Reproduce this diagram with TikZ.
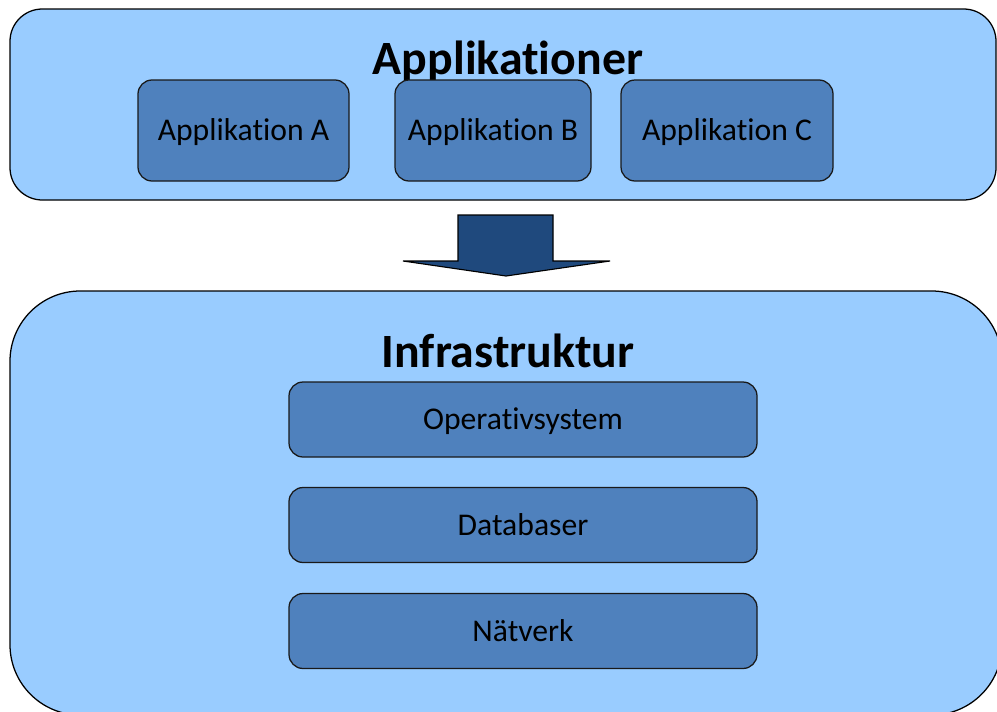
\documentclass[tikz,border=0pt]{standalone}
\usepackage{fontspec}
\setmainfont[Ligatures=NoCommon]{Carlito}
\usepackage{tikz}
\usetikzlibrary{calc}

\definecolor{layerblue}{HTML}{99CCFF}
\definecolor{partblue}{HTML}{4F81BD}
\definecolor{arrowblue}{HTML}{1F497D}

\def\u{0.025cm}

\tikzset{
  layer/.style={draw=black, line width=0.9pt, fill=layerblue, inner sep=0pt},
  part/.style={draw=black!90, line width=0.9pt, fill=partblue, rounded corners=10pt,
    inner sep=0pt, text height=14.4pt, text depth=0pt,
    font=\fontsize{22.5}{26}\selectfont},
  heading/.style={anchor=base, font=\fontsize{34}{40}\selectfont\bfseries}
}

\begin{document}
\begin{tikzpicture}[x=\u, y=-\u]
\useasboundingbox (0,0) rectangle (997,711);
\clip (0,0) rectangle (997,711);

% the two layers
\draw[layer, rounded corners=23pt] (10,9) rectangle (996,200);
\draw[layer, rounded corners=50pt] (10,291) rectangle (1002,715);

\node[heading] (applTitle) at (508,74) {Applikationer};
\node[heading] (infraTitle) at (508,367) {Infrastruktur};

\foreach \name/\x/\w/\lbl in {appA/243.5/211/A, appB/493/196/B, appC/727/212/C}
{
  \node[part, minimum width=\w*\u, minimum height=101*\u] (\name) at (\x,130.5) {Applikation \lbl};
}

\foreach \name/\y/\lbl in {os/419.5/Operativsystem, db/525/Databaser, net/631/Nätverk}
{
  \node[part, minimum width=468*\u, minimum height=75*\u] (\name) at (523,\y) {\lbl};
}

% block arrow between the layers
\draw[fill=arrowblue, line width=0.8pt, line join=miter]
  (458,215) -- (553,215) -- (553,261) -- (610,261) -- (506,276)
  -- (403,261) -- (458,261) -- cycle;
\end{tikzpicture}
\end{document}
